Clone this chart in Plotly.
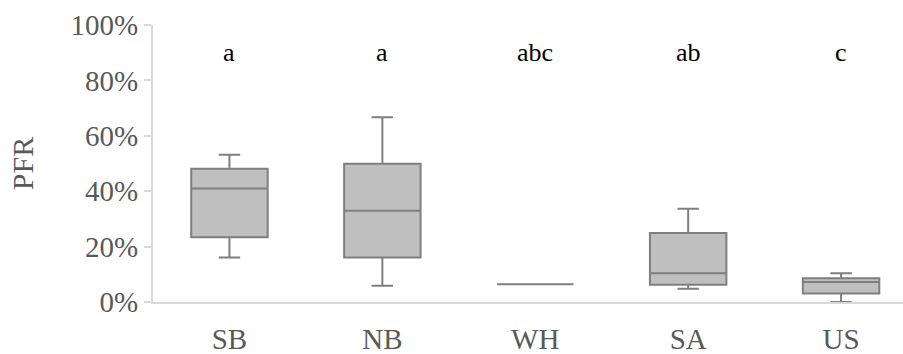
import plotly.graph_objects as go

categories = ["SB", "NB", "WH", "SA", "US"]
q1 = [0.234, 0.161, 0.064, 0.062, 0.031]
median = [0.410, 0.329, 0.064, 0.104, 0.072]
q3 = [0.481, 0.499, 0.064, 0.249, 0.086]
lower = [0.161, 0.059, 0.064, 0.048, 0.0]
upper = [0.532, 0.667, 0.064, 0.337, 0.104]
letters = ["a", "a", "abc", "ab", "c"]
letter_y = 0.90

font_family = "Liberation Serif"
text_grey = "#595959"

fig = go.Figure()
fig.add_trace(go.Box(
    x=categories,
    q1=q1, median=median, q3=q3,
    lowerfence=lower, upperfence=upper,
    boxpoints=False,
    fillcolor="#bfbfbf",
    line=dict(color="#7f7f7f", width=2),
    width=0.5,
    whiskerwidth=0.28,
    showlegend=False,
    hoverinfo="skip",
))

for c, t in zip(categories, letters):
    fig.add_annotation(x=c, y=letter_y, text=t, showarrow=False,
                       xanchor="center", yanchor="middle",
                       font=dict(family=font_family, size=26, color="#000000"))

fig.update_layout(
    width=903, height=354,
    margin=dict(l=153, r=0, t=25, b=52),
    paper_bgcolor="white", plot_bgcolor="white",
    font=dict(family=font_family, color=text_grey, size=28),
    xaxis=dict(
        type="category", range=[-0.5, 4.405],
        showline=True, linecolor="#d9d9d9", linewidth=2,
        ticks="", showgrid=False, zeroline=False,
        ticklabelstandoff=10,
        tickfont=dict(family=font_family, size=29, color=text_grey),
    ),
    yaxis=dict(
        range=[0, 1], dtick=0.2, tickformat=".0%",
        showline=True, linecolor="#d9d9d9", linewidth=2,
        ticks="outside", ticklen=7, tickcolor="#d9d9d9", tickwidth=2,
        showgrid=False, zeroline=False,
        tickfont=dict(family=font_family, size=29, color=text_grey),
        title=dict(text="PFR", font=dict(family=font_family, size=30, color=text_grey), standoff=28),
    ),
)

fig.write_html("out.html")
